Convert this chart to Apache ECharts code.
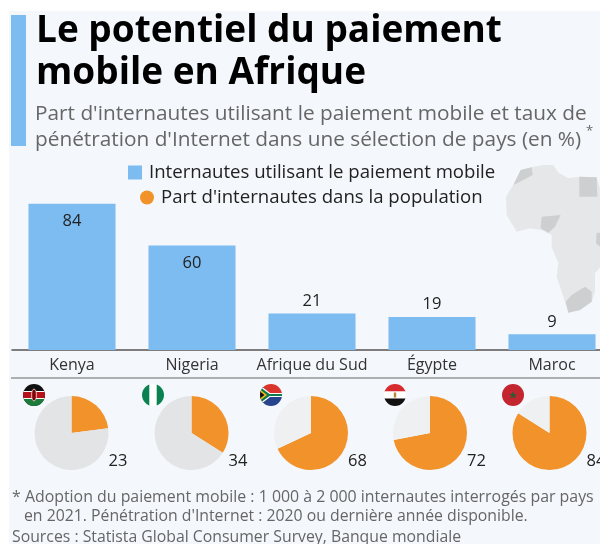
<!DOCTYPE html>
<html><head><meta charset="utf-8">
<style>html,body{margin:0;padding:0;background:#fff}#c{width:600px;height:544px}</style>
<script src="https://cdn.jsdelivr.net/npm/echarts@6/dist/echarts.min.js"></script>
</head><body><div id="c"></div>
<script>
const categories = ["Kenya","Nigeria","Afrique du Sud","Égypte","Maroc"];
const mobilePayment = [84,60,21,19,9];
const internetShare = [23,34,68,72,84];
const remainderColors = ["#e3e4e6","#e3e4e6","#eff0f2","#eff0f2","#eff0f2"];
const legendBar = "Internautes utilisant le paiement mobile";
const legendPie = "Part d'internautes dans la population";
const titleLines = ["Le potentiel du paiement","mobile en Afrique"];
const subtitleLines = ["Part d'internautes utilisant le paiement mobile et taux de","pénétration d'Internet dans une sélection de pays (en %)"];
const footnoteLines = ["* Adoption du paiement mobile : 1 000 à 2 000 internautes interrogés par pays","en 2021. Pénétration d'Internet : 2020 ou dernière année disponible.","Sources : Statista Global Consumer Survey, Banque mondiale"];

const FONT = '"Open Sans", sans-serif';
const BLUE = "#7cbcf1", ORANGE = "#f2922a";
const pieX = [71.5,191.5,311,430,549.5], pieY = 433, pieR = 37;
const flagX = [34,153,271,395,513], flagY = 395, flagR = 11;

const svg = b => 'data:image/svg+xml;charset=utf-8,' + encodeURIComponent(
 '<svg xmlns="http://www.w3.org/2000/svg" width="66" height="66" viewBox="0 0 22 22"><defs><clipPath id="k"><circle cx="11" cy="11" r="11"/></clipPath></defs><g clip-path="url(#k)">'+b+'</g></svg>');
const flags = [
 svg('<rect width="22" height="22" fill="#111"/><rect y="7" width="22" height="1.5" fill="#fff"/><rect y="8" width="22" height="6" fill="#b5121b"/><rect y="14" width="22" height="1.2" fill="#fff"/><rect y="15" width="22" height="7" fill="#1c7a3a"/><ellipse cx="11" cy="11" rx="2.6" ry="6" fill="#b5121b" stroke="#fff" stroke-width=".6"/><rect x="10.5" y="6" width="1" height="10" fill="#111"/>'),
 svg('<rect width="22" height="22" fill="#fff"/><rect width="7.3" height="22" fill="#0a8150"/><rect x="14.7" width="7.3" height="22" fill="#0a8150"/>'),
 svg('<rect width="22" height="11" fill="#d9352c"/><rect y="11" width="22" height="11" fill="#27448f"/><path d="M0 0L11 11L0 22Z" fill="#111"/><path d="M0 1L10 9H22V13H10L0 21Z" fill="#fff" opacity="1"/><path d="M0 3L9.5 10H22V12H9.5L0 19Z" fill="#0f7a49"/><path d="M0 5.5L7 11L0 16.5Z" fill="#f4b91f"/><path d="M0 7.5L4.5 11L0 14.5Z" fill="#111"/>'),
 svg('<rect width="22" height="7.5" fill="#d62b2f"/><rect y="7.5" width="22" height="7" fill="#fff"/><rect y="14.5" width="22" height="7.5" fill="#111"/><rect x="9.8" y="8.5" width="2.4" height="5" fill="#b08a2e"/>'),
 svg('<rect width="22" height="22" fill="#c3262f"/><path d="M11 7l1 3h3l-2.5 1.8 1 3L11 13l-2.500 1.800 1-3L7 10h3z" fill="#2c5a35"/>')
];

const mp = pts => pts.map(p => [p[0]/3+500, p[1]/3+160]);
const africaOutline = mp([[40,75],[62,30],[95,22],[130,15],[160,15],[175,38],[205,55],[238,50],[290,52],[305,100],[340,170],[400,190],[340,250],[310,310],[285,340],[285,395],[275,425],[240,450],[205,458],[190,410],[170,350],[175,310],[155,260],[155,225],[125,210],[90,205],[50,215],[20,165],[18,110]]);
const regions = [
 [[40,75],[62,30],[95,22],[98,45],[70,60]],
 [[238,50],[290,52],[292,110],[238,110]],
 [[125,170],[182,165],[165,200],[145,218],[122,205]],
 [[205,458],[197,425],[215,405],[255,380],[275,395],[275,425],[240,450]],
 [[290,218],[300,218],[300,260],[288,250]]
].map(mp);

const txt = (x,y,text,font,color,align) => ({type:'text',x,y,silent:true,style:{text,fill:color,font,textAlign:align||'left',textVerticalAlign:'middle'}});
const graphic = [
 {type:'rect',z:-10,shape:{x:9,y:11,width:591,height:533},style:{fill:'#f4f7fb'}},
 {type:'rect',z:-9,shape:{x:11,y:15,width:15,height:131},style:{fill:BLUE}},
 {type:'polygon',z:-8,shape:{points:africaOutline},style:{fill:'#e5e7e9'}},
 ...regions.map(r=>({type:'polygon',z:-7,shape:{points:r},style:{fill:'#cdcfd1'}})),
 {type:'line',shape:{x1:11,y1:378,x2:600,y2:378},style:{stroke:'#666',lineWidth:1}},
 txt(36,31,titleLines[0],'bold 37px '+FONT,'#000'),
 txt(36,73,titleLines[1],'bold 37px '+FONT,'#000'),
 txt(35,114,subtitleLines[0],'20.8px '+FONT,'#666'),
 txt(35,140,subtitleLines[1],'20.8px '+FONT,'#666'),
 txt(586,131,'*','13px '+FONT,'#666'),
 txt(12,497,footnoteLines[0],'15.9px '+FONT,'#666'),
 txt(24,516,footnoteLines[1],'15.8px '+FONT,'#666'),
 txt(12,537,footnoteLines[2],'15.8px '+FONT,'#666'),
 ...internetShare.map((v,i)=>txt(pieX[i]+37,461,String(v),'16.5px '+FONT,'#222')),
 ...flags.map((f,i)=>({type:'image',z:20,style:{image:f,x:flagX[i]-flagR,y:flagY-flagR,width:flagR*2,height:flagR*2}}))
];

const option = {
 animation:false,
 backgroundColor:'#fff',
 grid:{left:12,top:176,width:600,height:174,outerBoundsMode:'none'},
 legend:[
  {data:[{name:legendBar,icon:'rect'}],left:123,top:158,itemWidth:14,itemHeight:14,itemGap:0,selectedMode:false,textStyle:{fontFamily:FONT,fontSize:18.6,color:'#222',padding:[0,0,0,2]}},
  {data:[{name:legendPie,icon:'circle'}],left:135,top:183,itemWidth:14,itemHeight:14,itemGap:0,selectedMode:false,textStyle:{fontFamily:FONT,fontSize:18.6,color:'#222',padding:[0,0,0,2]}}
 ],
 xAxis:{type:'category',data:categories,axisTick:{show:false},axisLine:{lineStyle:{color:'#555',width:1.500}},axisLabel:{interval:0,fontFamily:FONT,fontSize:16,color:'#333',margin:7}},
 yAxis:{type:'value',min:0,max:100,show:false,splitLine:{show:false}},
 graphic,
 series:[
  {type:'bar',name:legendBar,barWidth:87,itemStyle:{color:BLUE},
   data:mobilePayment.map((v,i)=>({value:v,label:{position:i<2?'insideTop':'top',distance:i<2?9:4}})),
   label:{show:true,fontFamily:FONT,fontSize:16.5,color:'#222'}},
  ...internetShare.map((v,i)=>({type:'pie',center:[pieX[i],pieY],radius:[0,pieR],startAngle:90,clockwise:true,silent:true,
    label:{show:false},labelLine:{show:false},
    data:[{name:legendPie,value:v,itemStyle:{color:ORANGE}},{name:'Reste',value:100-v,itemStyle:{color:remainderColors[i]}}]}))
 ]
};
const chart = echarts.init(document.getElementById('c'),null,{renderer:'canvas'});
chart.setOption(option);
</script></body></html>
